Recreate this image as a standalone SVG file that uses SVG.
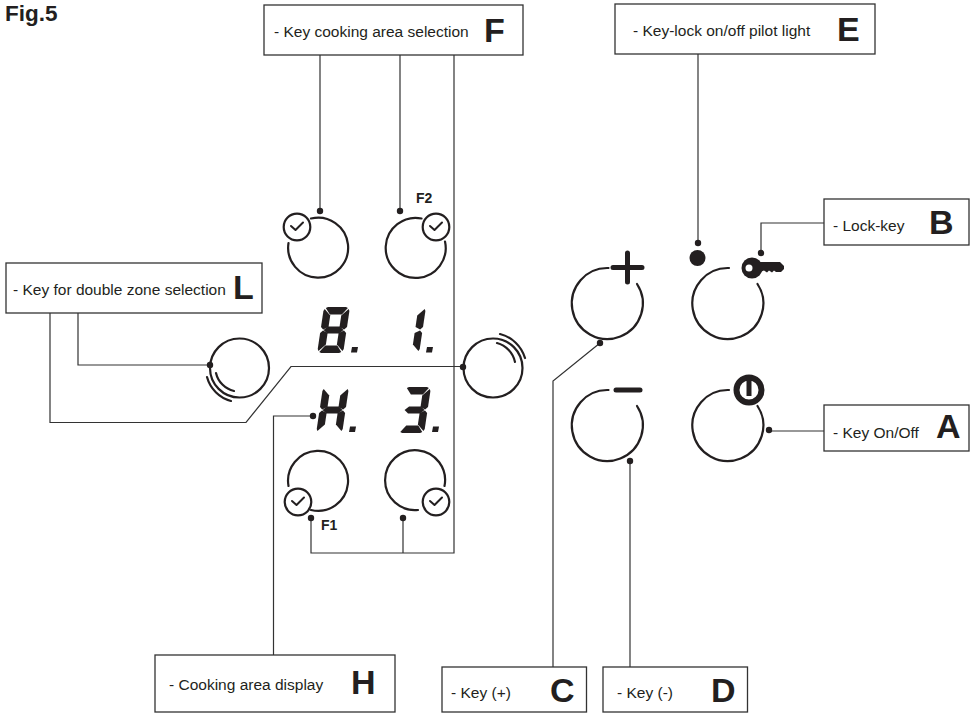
<svg xmlns="http://www.w3.org/2000/svg" width="978" height="714" viewBox="0 0 978 714">
<style>
text{font-family:"Liberation Sans",Arial,sans-serif;fill:#231f20}
.t{font-size:15.5px}
.b{font-size:34px;font-weight:700}
.s{font-size:14px;font-weight:700}
.box{fill:#fff;stroke:#333;stroke-width:1.3}
.ln{fill:none;stroke:#333;stroke-width:1.2}
.k{fill:none;stroke:#231f20;stroke-width:2.2;stroke-linecap:round}
.f{fill:#231f20;stroke:none}
.w{fill:none;stroke:#231f20;stroke-width:2;stroke-linecap:round;stroke-linejoin:round}
</style>
<defs>
<g id="clock"><circle class="k" r="13.3"/><path class="w" d="M-6,-1 L-1.5,3 L6,-4.5"/></g>
<path id="ring" class="k" d="M1,-35.5 A35.5,35.5 0 1 0 29.5,-19.5"/>
<path id="a" d="M2,1 L4,0 H22 L24,1 L19,7.5 H7Z"/>
<path id="b" d="M25,2 L26,4 V20 L23.5,22.5 L18.5,20 V8.5Z"/>
<path id="c" d="M23.5,23.5 L26,26 V42 L25,44 L18.5,37.5 V26Z"/>
<path id="d" d="M7,38.5 H19 L24,45 L22,46 H4 L2,45Z"/>
<path id="e" d="M1,44 L0,42 V26 L2.5,23.5 L7.5,26 V37.5Z"/>
<path id="g1" d="M1,2 L7.5,8.5 V20 L2.5,22.5 L0,20 V4Z"/>
<path id="m" d="M3,23 L7,19.5 H19 L23,23 L19,26.5 H7Z"/>
</defs>
<g id="connectors">
<path class="ln" d="M320,55V211M400,55V211M454,55V553H311V518M403,553V518"/>
<path class="ln" d="M698,54V243"/>
<path class="ln" d="M761,253V223H824"/>
<path class="ln" d="M78,313V365H210"/>
<path class="ln" d="M50,313V422.500H246L291,366.500H463"/>
<path class="ln" d="M313,416H273.500V655"/>
<path class="ln" d="M600,343L553,381V667"/>
<path class="ln" d="M630,461V667"/>
<path class="ln" d="M769,431H824"/>
<g class="f">
<circle cx="320" cy="211" r="3.200"/><circle cx="400" cy="211" r="3.200"/>
<circle cx="311" cy="518" r="3.200"/><circle cx="403" cy="518" r="3.200"/>
<circle cx="698" cy="243" r="3.200"/><circle cx="761" cy="253" r="3.200"/>
<circle cx="210" cy="365" r="3.200"/><circle cx="463" cy="367" r="3.200"/>
<circle cx="313" cy="416" r="3.200"/><circle cx="600" cy="343" r="3.200"/>
<circle cx="630" cy="461" r="3.200"/><circle cx="769" cy="430" r="3.200"/>
</g>
</g>
<text id="title" x="5" y="21" style="font-size:22.5px;font-weight:700">Fig.5</text>
<g id="box-F"><rect class="box" x="264" y="5" width="259" height="50"/><text class="t" x="274" y="37">- Key cooking area selection</text><text class="b" x="484" y="42">F</text></g>
<g id="box-E"><rect class="box" x="615" y="4" width="260" height="50"/><text class="t" x="633" y="36">- Key-lock on/off pilot light</text><text class="b" x="837" y="41">E</text></g>
<g id="box-B"><rect class="box" x="824" y="199" width="145" height="46"/><text class="t" x="833" y="231">- Lock-key</text><text class="b" x="929" y="234">B</text></g>
<g id="box-L"><rect class="box" x="6" y="263" width="256" height="50"/><text class="t" x="13" y="295">- Key for double zone selection</text><text class="b" x="233" y="299">L</text></g>
<g id="box-A"><rect class="box" x="824" y="405" width="145" height="46"/><text class="t" x="833" y="438">- Key On/Off</text><text class="b" x="936" y="438">A</text></g>
<g id="box-H"><rect class="box" x="155" y="655" width="240" height="57"/><text class="t" x="169" y="690">- Cooking area display</text><text class="b" x="351" y="694">H</text></g>
<g id="box-C"><rect class="box" x="442" y="667" width="144.500" height="45"/><text class="t" x="451" y="698">- Key (+)</text><text class="b" x="550" y="702">C</text></g>
<g id="box-D"><rect class="box" x="603" y="667" width="144.500" height="45"/><text class="t" x="617" y="698">- Key (-)</text><text class="b" x="711" y="702">D</text></g>

<g id="key-top-left"><path class="k" d="M311,218.500 A30,30 0 1 1 288.500,243"/><use href="#clock" x="297" y="227"/></g>
<g id="key-top-right"><path class="k" d="M421.500,218.500 A30,30 0 1 0 445,241.500"/><use href="#clock" x="436" y="227"/><text class="s" x="416" y="203">F2</text></g>
<g id="key-bottom-left"><path class="k" d="M288.500,486 A30,30 0 1 1 311,510"/><use href="#clock" x="298" y="502"/><text class="s" x="321" y="530">F1</text></g>
<g id="key-bottom-right"><path class="k" d="M444.500,486 A30,30 0 1 0 418,510"/><use href="#clock" x="436" y="502"/></g>

<g id="key-L"><circle class="k" cx="239.500" cy="368" r="29.500"/><path class="k" d="M234,391 A24,24 0 0 1 216,373 M231,401 A34,34 0 0 1 207,377"/></g>
<g id="key-R"><circle class="k" cx="493" cy="368" r="29.500"/><path class="k" d="M497,343 A25,25 0 0 1 515,362 M500,334 A35,35 0 0 1 525,358"/></g>

<g id="display-8" class="f" transform="translate(324,307) skewX(-8.500)"><use href="#a"/><use href="#b"/><use href="#c"/><use href="#d"/><use href="#e"/><use href="#g1"/><use href="#m"/></g>
<path id="dot-8" class="f" d="M352,347H358L357,352.500H351Z"/>
<g id="display-1" class="f" transform="translate(400,307) skewX(-8.500)"><use href="#b"/><use href="#c"/></g>
<path id="dot-1" class="f" d="M427,347H433L432,352.500H426Z"/>
<g id="display-H" class="f" transform="translate(323,387) skewX(-8.500)"><use href="#b"/><use href="#c"/><use href="#e"/><use href="#g1"/><use href="#m"/></g>
<path id="dot-H" class="f" d="M350,426.500H356L355,432H349Z"/>
<g id="display-3" class="f" transform="translate(405,387) skewX(-8.500)"><use href="#a"/><use href="#b"/><use href="#c"/><use href="#d"/><use href="#m"/></g>
<path id="dot-3" class="f" d="M433,426.500H439L438,432H432Z"/>

<g id="key-plus"><use href="#ring" x="607.500" y="303.500"/><path d="M613,267.500H642M627.500,253V282" fill="none" stroke="#231f20" stroke-width="5" stroke-linecap="round"/></g>
<g id="key-minus"><use href="#ring" x="607.500" y="425.500"/><path d="M616,390H640" fill="none" stroke="#231f20" stroke-width="5" stroke-linecap="round"/></g>
<g id="key-lock"><use href="#ring" x="728" y="303.500"/>
<circle class="f" cx="697.500" cy="258" r="8"/>
<circle class="f" cx="752" cy="268" r="10.500"/>
<path class="f" d="M758,262H780L784,266V269L781,272H776L774,270.500L772,272.500L769,270.500L767,272.500L764,270.500L758,273Z"/>
<circle cx="749" cy="268" r="3.500" fill="#fff"/>
</g>
<g id="key-power"><use href="#ring" x="728" y="425.500"/><circle cx="749" cy="390" r="12.500" fill="none" stroke="#231f20" stroke-width="6"/><path d="M749,375V396" fill="none" stroke="#231f20" stroke-width="5"/></g>
</svg>
